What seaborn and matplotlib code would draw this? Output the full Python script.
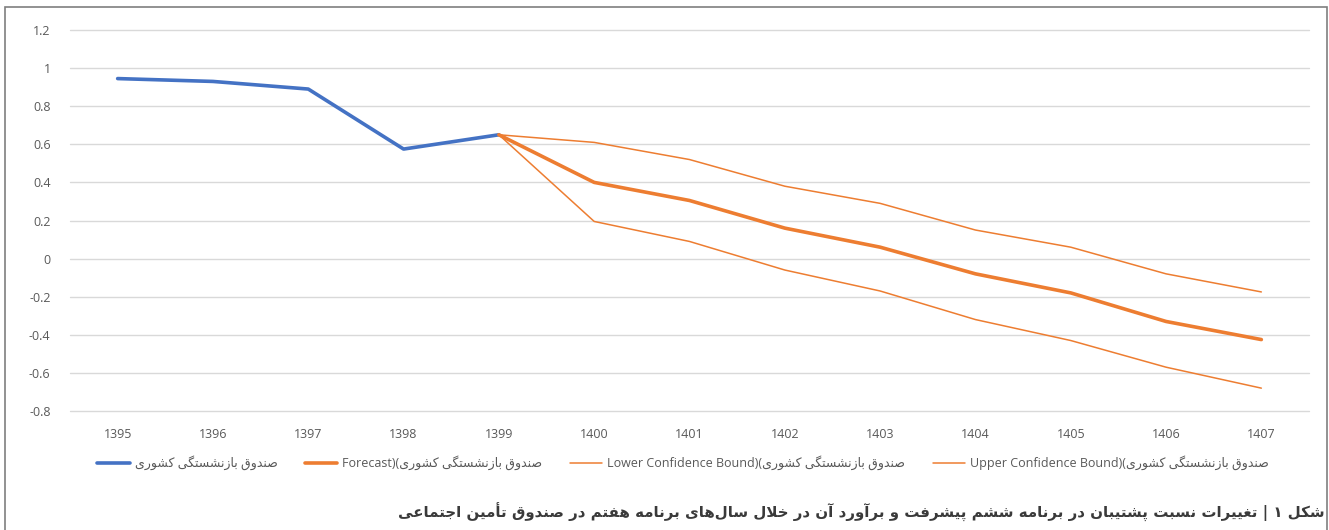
import pandas as pd
import matplotlib
import matplotlib.pyplot as plt
import seaborn as sns
from matplotlib.lines import Line2D
from matplotlib.patches import Rectangle

# data
years_hist = [1395, 1396, 1397, 1398, 1399]
ratio_hist = [0.945, 0.93, 0.89, 0.575, 0.65]

years_fc = [1399, 1400, 1401, 1402, 1403, 1404, 1405, 1406, 1407]
forecast = [0.65, 0.40, 0.305, 0.16, 0.06, -0.08, -0.18, -0.33, -0.425]
lower_bound = [0.65, 0.195, 0.09, -0.06, -0.17, -0.32, -0.43, -0.57, -0.68]
upper_bound = [0.65, 0.61, 0.52, 0.38, 0.29, 0.15, 0.06, -0.08, -0.175]

all_years = list(range(1395, 1408))
yticks = [1.2, 1, 0.8, 0.6, 0.4, 0.2, 0, -0.2, -0.4, -0.6, -0.8]

fund_name = "صندوق بازنشستگی کشوری"
caption = "شکل ۱ | تغییرات نسبت پشتیبان در برنامه ششم پیشرفت و برآورد آن در خلال سال‌های برنامه هفتم در صندوق تأمین اجتماعی"

# minimal arabic/persian shaping (no arabic_reshaper available)
FORMS = {
    'ا': ('\uFE8D', '\uFE8E', None, None),
    'آ': ('\uFE81', '\uFE82', None, None),
    'أ': ('\uFE83', '\uFE84', None, None),
    'ب': ('\uFE8F', '\uFE90', '\uFE91', '\uFE92'),
    'پ': ('\uFB56', '\uFB57', '\uFB58', '\uFB59'),
    'ت': ('\uFE95', '\uFE96', '\uFE97', '\uFE98'),
    'ج': ('\uFE9D', '\uFE9E', '\uFE9F', '\uFEA0'),
    'خ': ('\uFEA5', '\uFEA6', '\uFEA7', '\uFEA8'),
    'د': ('\uFEA9', '\uFEAA', None, None),
    'ر': ('\uFEAD', '\uFEAE', None, None),
    'ز': ('\uFEAF', '\uFEB0', None, None),
    'س': ('\uFEB1', '\uFEB2', '\uFEB3', '\uFEB4'),
    'ش': ('\uFEB5', '\uFEB6', '\uFEB7', '\uFEB8'),
    'ص': ('\uFEB9', '\uFEBA', '\uFEBB', '\uFEBC'),
    'ع': ('\uFEC9', '\uFECA', '\uFECB', '\uFECC'),
    'غ': ('\uFECD', '\uFECE', '\uFECF', '\uFED0'),
    'ف': ('\uFED1', '\uFED2', '\uFED3', '\uFED4'),
    'ق': ('\uFED5', '\uFED6', '\uFED7', '\uFED8'),
    'ک': ('\uFB8E', '\uFB8F', '\uFB90', '\uFB91'),
    'گ': ('\uFB92', '\uFB93', '\uFB94', '\uFB95'),
    'ل': ('\uFEDD', '\uFEDE', '\uFEDF', '\uFEE0'),
    'م': ('\uFEE1', '\uFEE2', '\uFEE3', '\uFEE4'),
    'ن': ('\uFEE5', '\uFEE6', '\uFEE7', '\uFEE8'),
    'و': ('\uFEED', '\uFEEE', None, None),
    'ه': ('\uFEE9', '\uFEEA', '\uFEEB', '\uFEEC'),
    'ی': ('\uFBFC', '\uFBFD', '\uFBFE', '\uFBFF'),
}


def fa(text):
    chars = list(text)
    out = []
    i = 0
    while i < len(chars):
        c = chars[i]
        if c == '\u200c':
            i += 1
            continue
        if c not in FORMS:
            out.append(c)
            i += 1
            continue
        prev = chars[i - 1] if i > 0 else None
        joins_prev = prev in FORMS and FORMS[prev][2] is not None
        # lam-alef ligature
        if c == 'ل' and i + 1 < len(chars) and chars[i + 1] in 'اآأ':
            lig = {'ا': ('\uFEFB', '\uFEFC'), 'آ': ('\uFEF5', '\uFEF6'),
                   'أ': ('\uFEF7', '\uFEF8')}[chars[i + 1]]
            out.append(lig[1] if joins_prev else lig[0])
            i += 2
            continue
        nxt = chars[i + 1] if i + 1 < len(chars) else None
        joins_next = FORMS[c][2] is not None and nxt in FORMS
        iso, fin, ini, med = FORMS[c]
        if joins_prev and joins_next:
            out.append(med)
        elif joins_prev:
            out.append(fin)
        elif joins_next:
            out.append(ini)
        else:
            out.append(iso)
        i += 1
    return ''.join(out[::-1])


sns.set_theme(style="white")
plt.rcParams['font.family'] = ['Open Sans', 'DejaVu Sans']
plt.rcParams['axes.unicode_minus'] = False

blue = "#4472C4"
orange = "#ED7D31"
grey_txt = "#595959"

hist_df = pd.DataFrame({"year": years_hist, "value": ratio_hist})
fc_df = pd.DataFrame({"year": years_fc, "forecast": forecast,
                      "lower": lower_bound, "upper": upper_bound})

fig = plt.figure(figsize=(13.29, 5.30), dpi=100)
ax = fig.add_axes([70 / 1329, 1 - 411 / 530, 1239 / 1329, 381 / 530])

sns.lineplot(data=hist_df, x="year", y="value", color=blue, linewidth=2.6, ax=ax)
sns.lineplot(data=fc_df, x="year", y="lower", color=orange, linewidth=1.1, ax=ax)
sns.lineplot(data=fc_df, x="year", y="upper", color=orange, linewidth=1.1, ax=ax)
sns.lineplot(data=fc_df, x="year", y="forecast", color=orange, linewidth=2.6, ax=ax)

ax.set_xlim(all_years[0] - 0.5, all_years[-1] + 0.5)
ax.set_ylim(-0.8, 1.2)
ax.set_xticks(all_years)
ax.set_xticklabels([str(y) for y in all_years])
ax.set_yticks(yticks)
ax.set_yticklabels(['{:g}'.format(v) for v in yticks])
ax.grid(axis="y", color="#d9d9d9", linewidth=1)
for gl in ax.get_ygridlines():
    gl.set_clip_on(False)
ax.set_axisbelow(True)
for s in ax.spines.values():
    s.set_visible(False)
ax.tick_params(axis="both", length=0, labelsize=9, labelcolor=grey_txt)
ax.tick_params(axis="y", pad=14)
ax.tick_params(axis="x", pad=12)
ax.set_xlabel("")
ax.set_ylabel("")

handles = [
    Line2D([], [], color=blue, linewidth=2.6),
    Line2D([], [], color=orange, linewidth=2.6),
    Line2D([], [], color=orange, linewidth=1.1),
    Line2D([], [], color=orange, linewidth=1.1),
]
labels = [
    fa(fund_name),
    "Forecast)(" + fa(fund_name),
    "Lower Confidence Bound)(" + fa(fund_name),
    "Upper Confidence Bound)(" + fa(fund_name),
]
leg = fig.legend(handles, labels, loc="center", bbox_to_anchor=(0.514, 1 - 463 / 530),
                 ncol=4, frameon=False, fontsize=9, handlelength=2.6,
                 handletextpad=0.4, columnspacing=2.2)
for t in leg.get_texts():
    t.set_color(grey_txt)

fig.text(1325 / 1329, 1 - 512 / 530, fa(caption), ha="right", va="center",
         fontsize=10.8, fontweight="bold", color="#3a3a3a", family=["DejaVu Sans"])

# outer frame like the source document
fig.patches.append(Rectangle((5 / 1329, -0.1), 1322 / 1329, 1.1 - 7 / 530,
                             transform=fig.transFigure, fill=False,
                             edgecolor="#7f7f7f", linewidth=1.2))

fig.savefig("out.png", dpi=100)
